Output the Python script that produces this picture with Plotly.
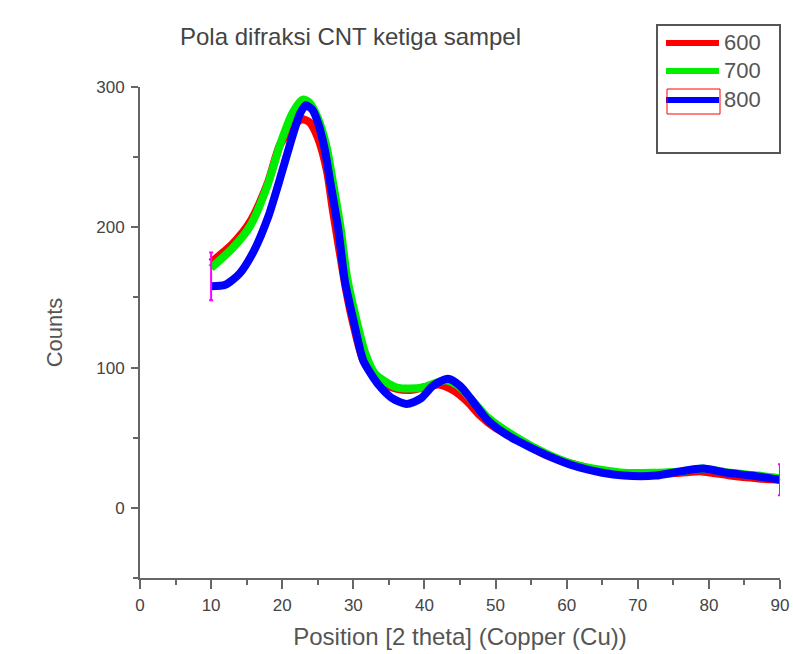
import plotly.graph_objects as go

# ---- data ----
x600 = [10, 13, 15.5, 18, 19.7, 21.5, 22.8, 23.8, 25, 26.3, 27.1, 28, 29, 30, 31.4, 33, 34.5, 36, 38, 40, 42, 44, 46, 47.8, 50, 53, 57, 61, 65, 68, 72, 76, 79, 83, 87, 90]
y600 = [175, 188, 204, 232, 259, 272, 277, 275, 264, 240, 213, 185, 155, 131, 105, 93, 88, 85, 84, 86, 88, 84, 76, 66, 57, 49, 38, 31, 26, 24, 24, 25, 26, 23, 21, 20]

x700 = [10, 13, 15.5, 18, 19.7, 21.5, 22.9, 23.8, 25, 26.3, 27, 28.2, 29.1, 30.3, 31.7, 33, 34.5, 36, 38, 40, 41.5, 43.1, 45, 47, 49, 53, 57, 61, 65, 68, 72, 76, 79, 83, 87, 90]
y700 = [171, 185, 201, 231, 259, 282, 291, 289, 278, 256, 236, 200, 165, 137, 110, 96, 90, 86, 85, 86, 89, 91, 86, 75, 64, 50, 39, 31, 27, 25, 25, 26, 28, 25, 23, 21]

x800 = [10, 12, 14, 16, 18, 20, 21.5, 22.5, 23.3, 24.2, 25, 26, 26.7, 27.9, 28.8, 30, 31.4, 32.8, 34, 35.5, 37.5, 39.5, 41.2, 43.3, 45, 46.5, 48.8, 51, 53, 57, 61, 65, 68, 72.5, 76, 79.2, 82.5, 86, 90]
y800 = [158, 159, 167, 183, 207, 240, 266, 281, 287, 284, 275, 255, 234, 198, 162, 134, 105, 93, 85, 78, 74, 78, 87, 92, 87, 78, 63, 54, 48, 38, 30, 25, 23, 23, 26, 28, 25, 23, 20]

# end markers (magenta bars)
end_x = [10, 90]
end_y = [165, 20]
end_err = [17, 11]

series_names = ["600", "700", "800"]
series_colors = ["#ff0000", "#00ee00", "#0000ff"]

x_ticks = [0, 10, 20, 30, 40, 50, 60, 70, 80, 90]
y_ticks = [0, 100, 200, 300]

title_text = "Pola difraksi CNT ketiga sampel"
x_title = "Position [2 theta] (Copper (Cu))"
y_title = "Counts"

FONT = "Liberation Sans, Arial, sans-serif"
AX = "#666666"
TXT = "#555555"

fig = go.Figure()
for xs, ys, name, col in zip([x600, x700, x800], [y600, y700, y800], series_names, series_colors):
    fig.add_trace(go.Scatter(x=xs, y=ys, mode="lines", name=name,
                             line=dict(color=col, width=8, shape="spline", smoothing=0.7),
                             showlegend=False))

fig.add_trace(go.Scatter(x=end_x, y=end_y, mode="markers",
                         marker=dict(size=1, color="#ff00ff"),
                         error_y=dict(type="data", array=end_err, color="#ff00ff", thickness=2, width=2),
                         showlegend=False, hoverinfo="skip", cliponaxis=False))

W, H = 793, 654
L, T = 140, 87
R, B = W - 780, H - 578
pw, ph = W - L - R, H - T - B


def px(xp):
    return (xp - L) / pw


def py(yp):
    return (H - B - yp) / ph


shapes = []
annotations = []
# legend box
shapes.append(dict(type="rect", xref="paper", yref="paper", x0=px(657), x1=px(780), y0=py(153), y1=py(25),
                   line=dict(color="#555555", width=2), fillcolor="white", layer="above"))
leg_y = [43, 71, 100]
for name, col, ly in zip(series_names, series_colors, leg_y):
    shapes.append(dict(type="line", xref="paper", yref="paper", x0=px(666), x1=px(719), y0=py(ly), y1=py(ly),
                       line=dict(color=col, width=6), layer="above"))
    annotations.append(dict(text=name, xref="paper", yref="paper", x=px(722), y=py(ly), xanchor="left",
                            yanchor="middle", showarrow=False, font=dict(family=FONT, size=22, color=TXT)))
shapes.append(dict(type="rect", xref="paper", yref="paper", x0=px(667), x1=px(720), y0=py(114), y1=py(89),
                   line=dict(color="#ff0000", width=1), layer="above"))

annotations.append(dict(text=title_text, xref="paper", yref="paper", x=px(350), y=py(37), xanchor="center",
                        yanchor="middle", showarrow=False, font=dict(family=FONT, size=24, color="#444444")))

fig.update_layout(
    width=W, height=H,
    margin=dict(l=L, r=R, t=T, b=B, autoexpand=False),
    paper_bgcolor="white", plot_bgcolor="white",
    font=dict(family=FONT, color=TXT),
    shapes=shapes, annotations=annotations,
    xaxis=dict(range=[0, 90], tickvals=x_ticks, showgrid=False, zeroline=False, automargin=False,
               showline=True, linecolor=AX, linewidth=2, ticks="outside", ticklen=9, tickwidth=2, tickcolor=AX,
               minor=dict(dtick=5, tick0=0, ticks="outside", ticklen=5, tickwidth=2, tickcolor=AX),
               tickfont=dict(size=17, color="#444444"), ticklabelstandoff=2,
               title=dict(text=x_title, font=dict(size=24, color=TXT), standoff=14)),
    yaxis=dict(range=[-50, 300], tickvals=y_ticks, showgrid=False, zeroline=False, automargin=False,
               showline=True, linecolor=AX, linewidth=2, ticks="outside", ticklen=7, tickwidth=2, tickcolor=AX,
               minor=dict(dtick=50, tick0=0, ticks="outside", ticklen=5, tickwidth=2, tickcolor=AX),
               tickfont=dict(size=17, color="#444444"), ticklabelstandoff=3,
               title=dict(text=y_title, font=dict(size=22, color=TXT), standoff=28)),
)

fig.write_html("out.html", config={"displayModeBar": False},
               post_script="document.body.style.margin='0';")
